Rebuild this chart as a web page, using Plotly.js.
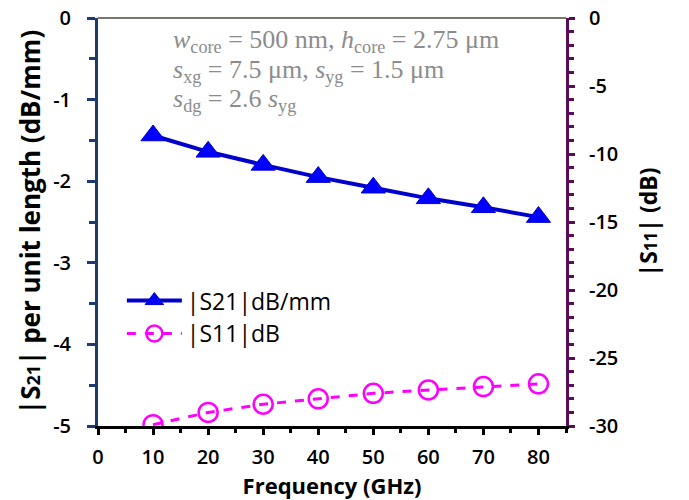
<!DOCTYPE html>
<html><head><meta charset="utf-8">
<script src="https://cdn.plot.ly/plotly-3.0.1.min.js"></script>
<style>body{margin:0;padding:0;}#chart{width:689px;height:500px;}</style>
</head><body><div id="chart"></div>
<script>
const freq = [10, 20, 30, 40, 50, 60, 70, 80];
const s21 = [-1.44, -1.64, -1.80, -1.95, -2.08, -2.21, -2.32, -2.44];
const s11 = [-29.9, -29.0, -28.4, -28.0, -27.6, -27.35, -27.1, -26.9];
const xTicks = [0, 10, 20, 30, 40, 50, 60, 70, 80];
const yTicks = [0, -1, -2, -3, -4, -5];
const yTickText = ['0', '-1', '-2', '-3', '-4', '-5'];
const y2Ticks = [0, -5, -10, -15, -20, -25, -30];
const y2TickText = ['0', '-5', '-10', '-15', '-20', '-25', '-30'];
const noteLines = [
  '<i>w</i><sub>core</sub> = 500 nm, <i>h</i><sub>core</sub> = 2.75 μm',
  '<i>s</i><sub>xg</sub> = 7.5 μm, <i>s</i><sub>yg</sub> = 1.5 μm',
  '<i>s</i><sub>dg</sub> = 2.6 <i>s</i><sub>yg</sub>'
];
const noteY = [0.944, 0.871, 0.798];

const tickFont = {family: 'Open Sans, sans-serif', size: 20, color: '#000', weight: 600};
const traces = [
  {x: freq, y: s21, name: '|S21|dB/mm', type: 'scatter', mode: 'lines+markers',
   line: {color: '#0000CC', width: 4}, marker: {symbol: 'triangle-up', size: 21, color: '#0000FF', line: {color: '#0000CC', width: 1}}},
  {x: freq, y: s11, name: '|S11|dB', type: 'scatter', mode: 'lines+markers', yaxis: 'y2',
   line: {color: '#FF00FF', width: 3, dash: 'dash'}, marker: {symbol: 'circle-open', size: 19, color: '#FF00FF', line: {color: '#FF00FF', width: 2.5}}}
];
const layout = {
  width: 689, height: 500,
  margin: {l: 98, r: 123, t: 18, b: 74},
  paper_bgcolor: '#fff', plot_bgcolor: '#fff',
  showlegend: true,
  legend: {x: 0.051, y: 0.36, xanchor: 'left', yanchor: 'top', bgcolor: 'rgba(0,0,0,0)', itemwidth: 55,
           font: {family: 'Open Sans, sans-serif', size: 23, color: '#000'}, tracegroupgap: 0},
  xaxis: {range: [0, 85], tickvals: xTicks, ticks: 'outside', ticklen: 6, tickwidth: 3, tickcolor: '#000',
          minor: {dtick: 5, ticks: 'outside', ticklen: 4, tickwidth: 3, tickcolor: '#000'},
          showline: true, linecolor: '#000', linewidth: 3, showgrid: false, zeroline: false,
          tickfont: tickFont, ticklabelstandoff: 5,
          title: {text: 'Frequency (GHz)', font: {family: 'Open Sans, sans-serif', size: 22, color: '#000', weight: 700}, standoff: 4}},
  yaxis: {range: [-5, 0], tickvals: yTicks, ticktext: yTickText, ticks: 'outside', ticklen: 8, tickwidth: 3, tickcolor: '#1F3A70',
          minor: {dtick: 0.5, ticks: 'outside', ticklen: 6, tickwidth: 3, tickcolor: '#1F3A70'},
          showline: true, linecolor: '#1F3A70', linewidth: 3, showgrid: false, zeroline: false,
          tickfont: tickFont, ticklabelstandoff: 12,
          title: {text: '|S<span style="font-size:18px">21</span>| per unit length (dB/mm)', font: {family: 'Open Sans, sans-serif', size: 26, color: '#000', weight: 700}, standoff: 6}},
  yaxis2: {range: [-30, 0], overlaying: 'y', side: 'right', tickvals: y2Ticks, ticktext: y2TickText, ticks: 'outside', ticklen: 6, tickwidth: 3, tickcolor: '#5A0C5A',
           minor: {dtick: 1, ticks: 'outside', ticklen: 5, tickwidth: 3, tickcolor: '#5A0C5A'},
           showline: true, linecolor: '#5A0C5A', linewidth: 3, showgrid: false, zeroline: false,
           tickfont: tickFont, ticklabelstandoff: 10,
           title: {text: '|S<span style="font-size:17px">11</span>| (dB)', font: {family: 'Open Sans, sans-serif', size: 23, color: '#000', weight: 700}, standoff: 24}},
  shapes: [{type: 'line', xref: 'paper', yref: 'paper', x0: 0, x1: 1, y0: 1, y1: 1, line: {color: '#4A4A3A', width: 1.5}}],
  annotations: noteLines.map((t, i) => ({
    xref: 'paper', yref: 'paper', x: 0.155, y: noteY[i], xanchor: 'left', yanchor: 'middle', align: 'left', showarrow: false,
    font: {family: 'Liberation Serif, serif', size: 26, color: '#8C8C8C'}, text: t
  }))
};
Plotly.newPlot('chart', traces, layout, {displayModeBar: false, staticPlot: true});
</script></body></html>
